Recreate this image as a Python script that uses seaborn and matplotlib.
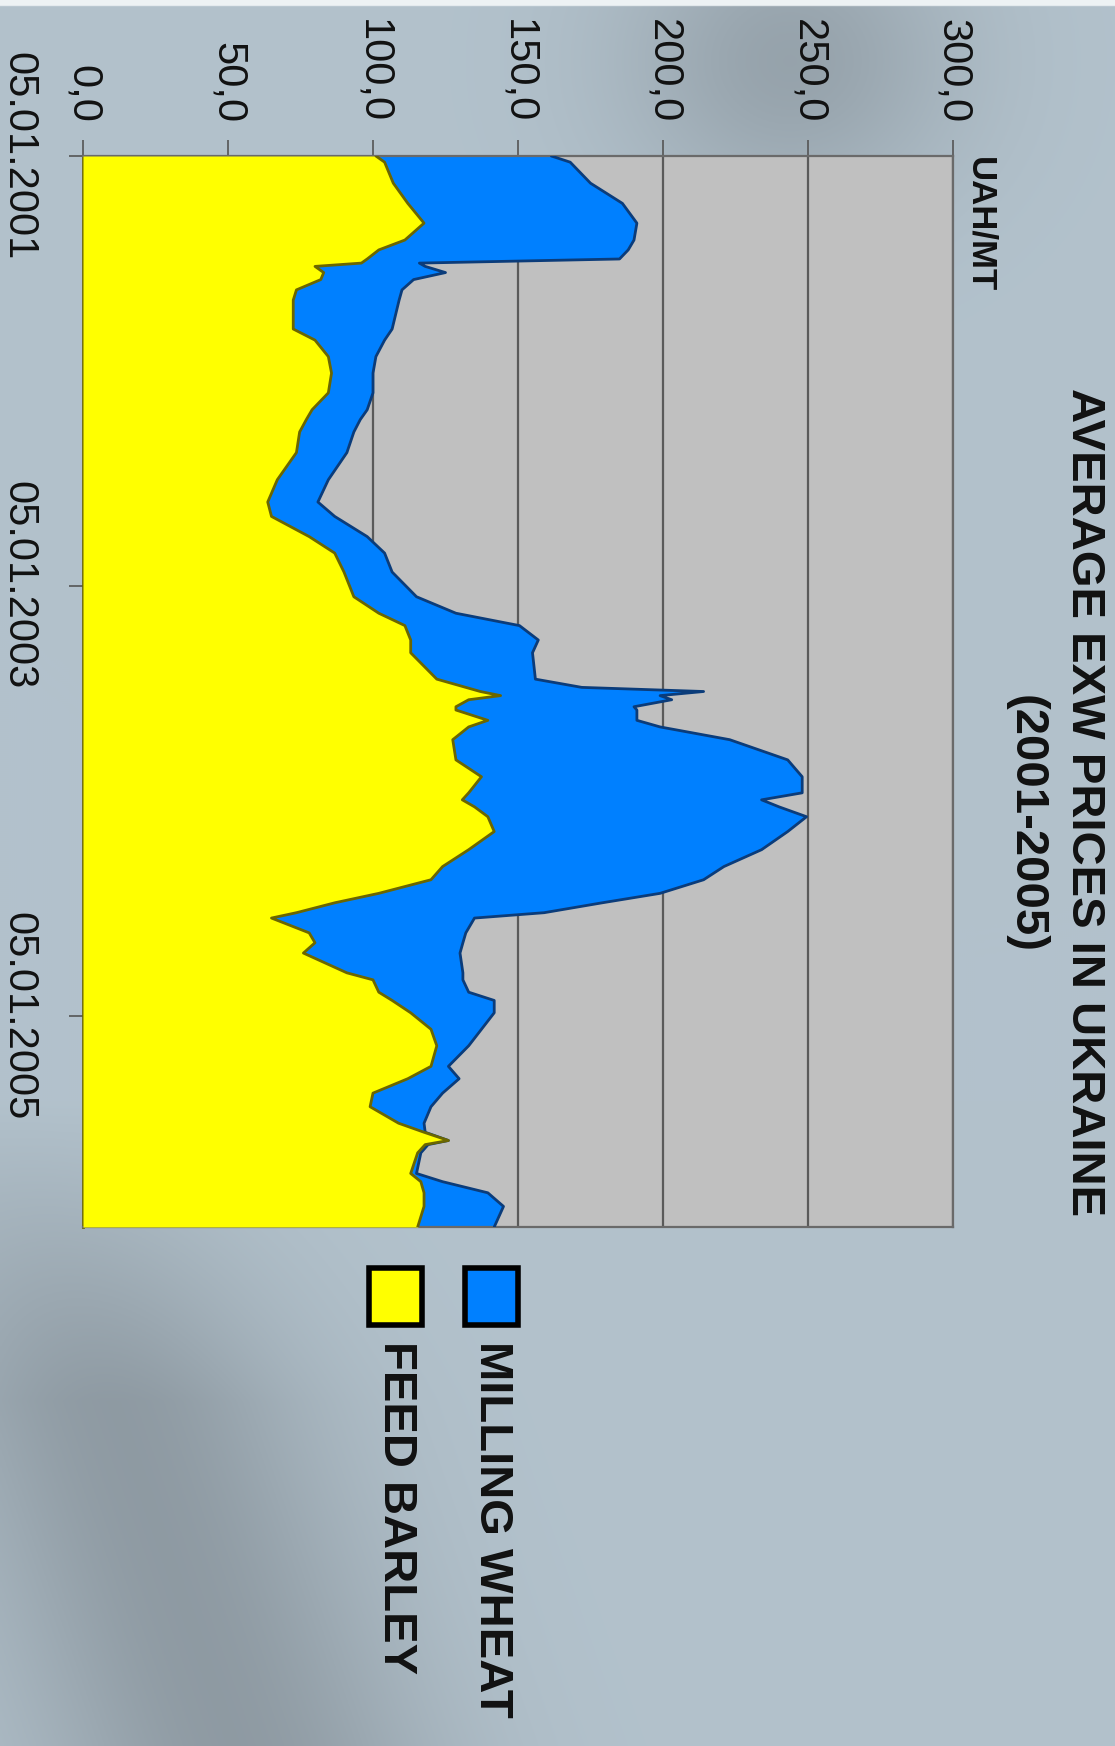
import numpy as np
import pandas as pd
import matplotlib
matplotlib.use('Agg')
import matplotlib.pyplot as plt
import seaborn as sns
from matplotlib.patches import Rectangle

# weekly EXW prices, UAH/MT, week 0 = 05.01.2001
start = pd.Timestamp('2001-01-05')
weeks = [0, 1.5, 6.6, 11.5, 16.3, 20.4, 22.8, 25.0, 26.0, 26.8, 28.3, 30, 32.5, 35, 42,
         44.7, 48.7, 52.7, 57.5, 61.6, 64, 67, 72, 78.6, 84, 87.5, 92.4, 96.4, 101, 107,
         111, 114, 117.5, 120.6, 127, 129, 130, 131, 132, 133.7, 134.5, 137, 138.6, 141.7,
         146.6, 150.7, 154.6, 156.3, 158, 160.4, 164, 168.4, 172.5, 175.7, 179, 181.3,
         183.7, 185, 188.6, 191, 193.5, 198.3, 200, 203, 205, 208, 212, 216, 221, 224,
         227.5, 230.8, 234.8, 237, 239, 240, 242, 247, 249, 251.7, 255, 260]
wheat = [161.5, 168, 175, 186, 191, 190, 188, 185, 116, 118, 125, 114, 110, 109, 106.6,
         104, 101, 100, 100, 98, 95.6, 93.4, 91, 84.6, 81, 86.8, 98, 104, 106.6, 115,
         128.6, 150.5, 157, 155, 156, 172, 214, 199, 203, 190, 191, 191, 199, 223,
         243, 248, 248, 234, 240, 249.5, 243, 234, 221, 214, 199, 179,
         159, 135, 132, 131, 130, 131, 131, 133, 141.8, 141.8, 137.4, 133, 126, 129.7,
         124, 120, 117.6, 118, 126, 119, 116.5, 115, 124, 139.6, 145, 141.8]
barley = [101, 104, 107, 112, 117.6, 111, 102, 98, 96, 80, 83, 82, 73.6, 72.5, 72.5,
          80, 84.6, 85.7, 84.6, 79, 77, 74.7, 73.6, 67, 63.7, 65, 78, 86.8, 90, 93.4,
          102, 111, 113, 113, 122, 132, 137, 144, 133, 128.6, 128.6, 139.6, 133, 127.5,
          128.6, 137.4, 133, 130.8, 135, 139.6, 141.8, 133, 124, 120, 102, 86.8,
          73.6, 65, 78, 80, 76, 91, 100, 102, 106.6, 113, 120, 122, 120, 112,
          100, 99, 108.8, 117.6, 126, 118, 115.4, 113, 116.5, 117.6, 117.6, 115.4]

value_ticks = [0, 50, 100, 150, 200, 250, 300]
value_labels = ['0,0', '50,0', '100,0', '150,0', '200,0', '250,0', '300,0']
date_ticks = pd.to_datetime(['2001-01-05', '2003-01-05', '2005-01-05'])
date_labels = ['05.01.2001', '05.01.2003', '05.01.2005']
series_names = ['MILLING WHEAT', 'FEED BARLEY']
series_colors = ['#0080ff', '#ffff00']
edge_colors = ['#0b3c7a', '#6b6600']

df = pd.DataFrame({'date': start + pd.to_timedelta(np.array(weeks) * 7, unit='D'),
                   'wheat': wheat, 'barley': barley})

sns.set_style('white', {'axes.facecolor': '#c0c0c0'})
plt.rcParams['font.family'] = ['Liberation Sans', 'DejaVu Sans']

W, H = 1115, 1746
fig = plt.figure(figsize=(W / 100, H / 100), dpi=100)

# background: blue-grey with darker smudges
bg = fig.add_axes([0, 0, 1, 1], zorder=-10)
yy, xx = np.mgrid[0:H:2, 0:W:2]
base = np.array([0.70, 0.76, 0.80])
grey = np.array([0.50, 0.54, 0.57])
d = 0.55 * np.exp(-((xx - 790) / 170) ** 2 - ((yy - 60) / 150) ** 2)
# broad diagonal smear in the lower left
dist = (xx - 60) - (yy - 1250) * 0.35
d += 0.7 * np.exp(-(dist / 200) ** 2) * np.clip((yy - 1100) / 300, 0, 1)
d = np.clip(d, 0, 1)[..., None]
img = base * (1 - d) + grey * d
img[:3] = [0.93, 0.95, 0.96]
bg.imshow(img, aspect='auto', extent=[0, 1, 0, 1])
bg.axis('off')

ax = fig.add_axes([83 / W, 1 - 1227 / H, (953 - 83) / W, (1227 - 156) / H])
ax.set_axisbelow(True)
ax.xaxis.grid(True, color='#5a5a5a', lw=1.6)
ax.yaxis.grid(False)

ax.fill_betweenx(df['date'], 0, df['wheat'], color=series_colors[0], lw=0, zorder=2)
sns.lineplot(data=df, x='wheat', y='date', orient='y', sort=False, color=edge_colors[0],
             lw=2, ax=ax, zorder=3)
ax.fill_betweenx(df['date'], 0, df['barley'], color=series_colors[1], lw=0, zorder=4)
sns.lineplot(data=df, x='barley', y='date', orient='y', sort=False, color=edge_colors[1],
             lw=2, ax=ax, zorder=5)

ax.set_xlim(0, 300)
ax.set_ylim(pd.Timestamp('2005-12-30'), start)
ax.set_xlabel('')
ax.set_ylabel('')

ax.xaxis.tick_top()
ax.set_xticks(value_ticks, value_labels, rotation=-90, fontsize=30, color='#111111')
ax.tick_params(axis='x', top=True, bottom=False, length=11.5, width=1.2,
               color='#555555', pad=12)
ax.set_yticks(date_ticks, date_labels, rotation=-90, fontsize=30, color='#111111')
for lab in ax.get_yticklabels():
    lab.set_va('center')
ax.tick_params(axis='y', left=True, length=10, width=1.2, color='#555555', pad=22)

for side in ['top', 'right', 'bottom']:
    ax.spines[side].set_color('#6a6a6a')
    ax.spines[side].set_linewidth(1.6)
ax.spines['left'].set_color(edge_colors[1])
ax.spines['left'].set_linewidth(2)

# titles and unit label (the whole chart is turned a quarter turn clockwise)
fig.text(980 / W, 1 - 157 / H, 'UAH/MT', rotation=-90, ha='center', va='top',
         fontsize=25, fontweight='bold', color='#111111')
fig.text(1084 / W, 1 - 802 / H, 'AVERAGE EXW PRICES IN UKRAINE', rotation=-90,
         ha='center', va='center', fontsize=34, fontweight='bold', color='#111111')
fig.text(1026 / W, 1 - 824 / H, '(2001-2005)', rotation=-90,
         ha='center', va='center', fontsize=34, fontweight='bold', color='#111111')

# legend
legend_x = [465, 369]
for name, col, lx in zip(series_names, series_colors, legend_x):
    fig.add_artist(Rectangle((lx / W, 1 - 1325 / H), 53 / W, 57 / H, facecolor=col,
                             edgecolor='black', lw=4, transform=fig.transFigure))
    fig.text((lx + 27) / W, 1 - 1341 / H, name, rotation=-90, ha='center', va='top',
             fontsize=34, fontweight='bold', color='#111111')

fig.savefig('out.png', dpi=100)
